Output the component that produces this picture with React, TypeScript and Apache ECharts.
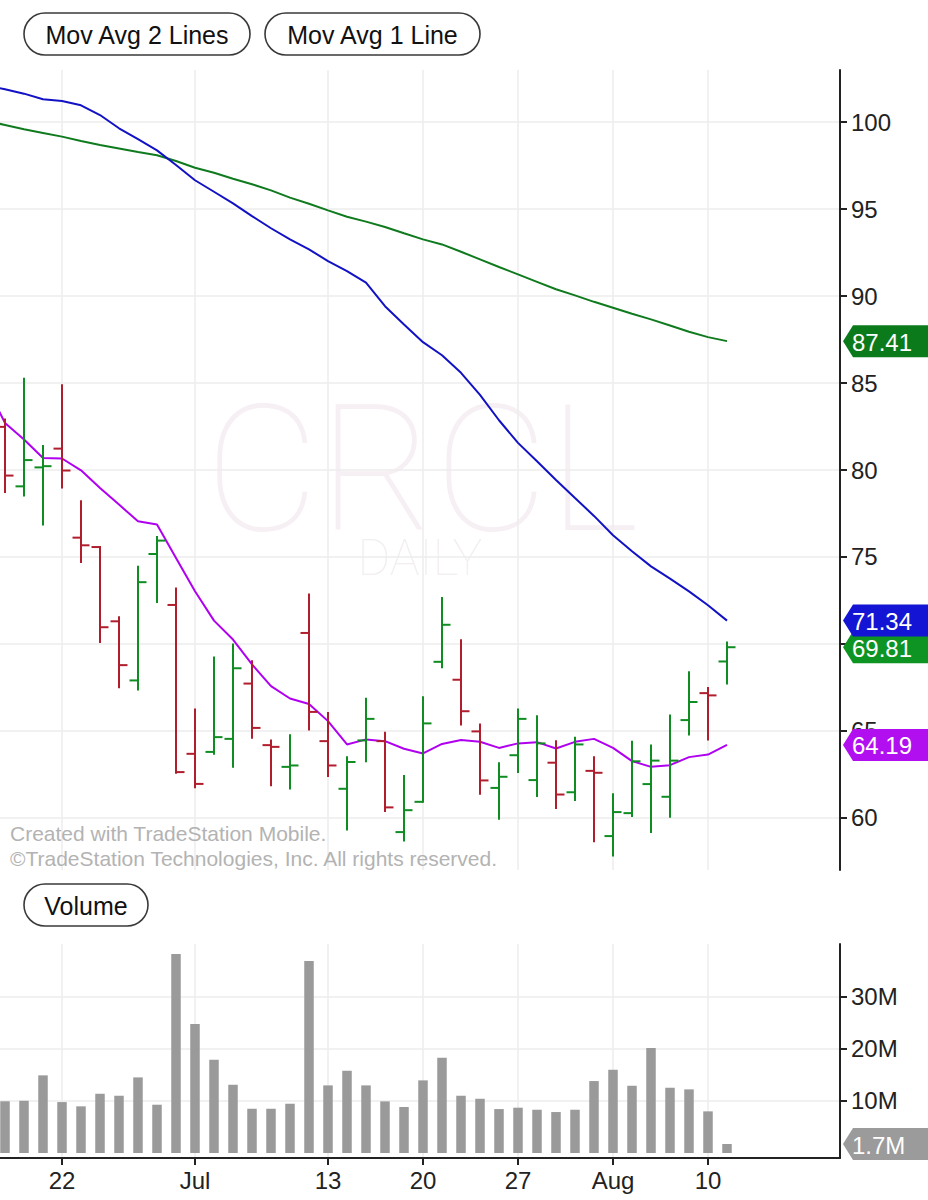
import React, { useEffect, useRef } from 'react';
import * as echarts from 'echarts';

// ---- data ----
const tickIndex = [3, 10, 17, 22, 27, 32, 37];
const tickLabels = ['22', 'Jul', '13', '20', '27', 'Aug', '10'];
const priceTicks = [60, 65, 70, 75, 80, 85, 90, 95, 100];
const volumeTicks = [10, 20, 30];

const opens = [82.48, 79.06, 80.15, 81.23, 76.11, 75.57, 71.3, 67.9, 75.17, 72.24, 63.68, 63.79, 64.54, 67.72, 64.18, 62.93, 70.63, 64.41, 61.67, 64.45, 64.41, 59.18, 60.92, 68.97, 67.94, 64.97, 61.72, 63.6, 62.17, 63.17, 61.47, 62.7, 58.95, 60.27, 61.94, 61.21, 65.62, 67.17, 68.99];
const highs = [82.9, 85.25, 81.38, 84.87, 78.2, 75.57, 71.53, 74.43, 76.15, 73.18, 66.23, 69.22, 69.97, 69.0, 64.45, 64.75, 72.84, 66.03, 63.49, 66.84, 64.89, 62.4, 66.94, 72.64, 70.21, 65.37, 63.14, 66.23, 65.84, 64.41, 64.6, 63.49, 61.36, 64.37, 64.16, 65.89, 68.37, 67.47, 70.08];
const lows = [78.74, 78.53, 76.86, 79.0, 74.71, 70.11, 67.51, 67.38, 72.41, 62.59, 61.76, 63.68, 62.93, 64.6, 61.88, 61.69, 65.08, 62.4, 59.33, 63.26, 60.39, 58.7, 60.92, 68.66, 65.37, 61.38, 59.94, 62.63, 61.25, 60.57, 61.02, 58.66, 57.84, 60.1, 59.18, 60.06, 64.79, 64.51, 67.72];
const closes = [79.68, 80.57, 80.22, 79.97, 75.67, 70.96, 68.78, 73.55, 75.94, 62.63, 61.95, 64.64, 68.6, 65.17, 64.08, 63.01, 66.09, 63.01, 63.21, 65.69, 60.6, 60.44, 65.43, 71.1, 66.13, 62.15, 62.36, 65.69, 64.28, 61.34, 64.22, 62.59, 60.33, 63.25, 63.29, 63.29, 66.66, 67.04, 69.81];
const volumes = [9.9, 10.0, 14.86, 9.75, 8.93, 11.34, 10.96, 14.47, 9.24, 38.1, 24.67, 17.84, 13.06, 8.47, 8.47, 9.43, 36.77, 12.94, 15.74, 12.94, 9.88, 8.8, 13.9, 18.23, 10.96, 10.38, 8.41, 8.67, 8.28, 7.84, 8.28, 13.77, 15.93, 12.87, 20.08, 12.49, 12.18, 7.97, 1.72];

// moving averages, first value belongs to the bar before the first visible bar
const maShort = [84.9, 82.7, 81.75, 80.69, 80.66, 79.98, 78.97, 78.01, 77.05, 76.86, 74.94, 73.03, 71.34, 70.25, 68.82, 67.57, 66.86, 66.55, 65.56, 64.22, 64.51, 64.41, 63.97, 63.7, 64.25, 64.47, 64.37, 64.02, 64.28, 64.35, 63.99, 64.37, 64.54, 64.02, 63.26, 62.93, 63.03, 63.49, 63.64, 64.19];
const maMid = [102.12, 101.89, 101.64, 101.32, 101.22, 100.97, 100.41, 99.65, 99.02, 98.38, 97.54, 96.66, 96.0, 95.33, 94.6, 93.9, 93.26, 92.69, 92.01, 91.44, 90.77, 89.42, 88.37, 87.35, 86.6, 85.59, 84.32, 82.86, 81.56, 80.5, 79.43, 78.39, 77.36, 76.25, 75.33, 74.46, 73.75, 73.02, 72.22, 71.34];
const maLong = [100.08, 99.84, 99.59, 99.38, 99.17, 98.92, 98.69, 98.49, 98.29, 98.1, 97.77, 97.38, 97.09, 96.75, 96.43, 96.08, 95.66, 95.31, 94.93, 94.56, 94.28, 93.97, 93.61, 93.26, 92.97, 92.55, 92.11, 91.67, 91.25, 90.82, 90.39, 90.04, 89.67, 89.33, 88.98, 88.66, 88.31, 87.95, 87.64, 87.41];

// ---- styles ----
const FONT = '"Liberation Sans", Arial, Helvetica, sans-serif';
const UP = '#0f8c22';
const DOWN = '#b01e2e';
const GRID = '#ececec';
const AXIS = '#222222';
const X_MIN = -5 / 19;
const X_MAX = 835 / 19;
const priceTagColors = ['#0b7a1b', '#0e9422', '#1414d4', '#b10ff0'];

export default function App() {
  const ref = useRef<HTMLDivElement>(null);

  useEffect(() => {
    document.body.style.margin = '0';
    const chart = echarts.init(ref.current as HTMLDivElement, null, { renderer: 'svg' });
    const last = opens.length - 1;
    const ohlc = opens.map((o, i) => [i, o, highs[i], lows[i], closes[i]]);
    const toLine = (arr: number[]) => arr.map((v, k) => [k - 1, v]);
    const volData = volumes.map((v, i) => [i, v]);
    const priceTags = [
      [last, maLong[maLong.length - 1]],
      [last, closes[last]],
      [last, maMid[maMid.length - 1]],
      [last, maShort[maShort.length - 1]],
    ];
    const volTag = [[last, volumes[last]]];

    const tagRender = (colors: string[], fmt: (v: number) => string) => (params: any, api: any) => {
      const v = api.value(1);
      const y = api.coord([api.value(0), v])[1];
      const cs = params.coordSys;
      const x0 = cs.x + cs.width + 3;
      const h = 16;
      return {
        type: 'group',
        children: [
          {
            type: 'polygon',
            shape: { points: [[x0, y], [x0 + 10, y - h], [928, y - h], [928, y + h], [x0 + 10, y + h]] },
            style: { fill: colors[params.dataIndex % colors.length] },
          },
          {
            type: 'text',
            style: {
              x: x0 + 9, y: y + 1, text: fmt(v), fill: '#ffffff',
              fontSize: 24, fontFamily: FONT, align: 'left', verticalAlign: 'middle',
            },
          },
        ],
      };
    };

    const xCommon = { type: 'value', min: X_MIN, max: X_MAX };

    const option: any = {
      animation: false,
      backgroundColor: '#ffffff',
      grid: [
        { left: 0, right: 88, top: 70, bottom: 330 },
        { left: 0, right: 88, top: 944, bottom: 42 },
      ],
      xAxis: [
        {
          ...xCommon, gridIndex: 0,
          axisLine: { show: false },
          axisTick: { show: false, customValues: tickIndex },
          axisLabel: { show: false, customValues: tickIndex },
          splitLine: { show: true, lineStyle: { color: GRID, width: 1.5 } },
        },
        {
          ...xCommon, gridIndex: 1,
          axisLine: { show: true, onZero: false, lineStyle: { color: AXIS, width: 2 } },
          axisTick: { show: true, customValues: tickIndex, length: 7, lineStyle: { color: AXIS, width: 2 } },
          axisLabel: {
            customValues: tickIndex, margin: 10, fontSize: 24, fontFamily: FONT, color: AXIS,
            formatter: (v: number) => tickLabels[tickIndex.indexOf(Math.round(v))] ?? '',
          },
          splitLine: { show: true, lineStyle: { color: GRID, width: 1.5 } },
        },
      ],
      yAxis: [
        {
          type: 'value', gridIndex: 0, position: 'right', min: 57, max: 103,
          axisLine: { show: true, onZero: false, lineStyle: { color: AXIS, width: 2 } },
          axisTick: { show: true, customValues: priceTicks, length: 7, lineStyle: { color: AXIS, width: 2 } },
          axisLabel: { customValues: priceTicks, margin: 11, fontSize: 24, fontFamily: FONT, color: AXIS },
          splitLine: { show: true, lineStyle: { color: GRID, width: 1.5 } },
        },
        {
          type: 'value', gridIndex: 1, position: 'right', min: -0.956, max: 40,
          axisLine: { show: true, onZero: false, lineStyle: { color: AXIS, width: 2 } },
          axisTick: { show: true, customValues: volumeTicks, length: 7, lineStyle: { color: AXIS, width: 2 } },
          axisLabel: {
            customValues: volumeTicks, margin: 11, fontSize: 24, fontFamily: FONT, color: AXIS,
            formatter: (v: number) => `${v}M`,
          },
          splitLine: { show: true, lineStyle: { color: GRID, width: 1.5 } },
        },
      ],
      graphic: [
        {
          type: 'text', x: 422, y: 470, z: -1, silent: true,
          style: { text: 'CRCL', fill: '#f6eff4', font: `100 176px Roboto, ${FONT}`, textAlign: 'center', textVerticalAlign: 'middle' },
        },
        {
          type: 'text', x: 420, y: 558, z: -1, silent: true,
          style: { text: 'DAILY', fill: '#f3eef1', font: `100 50px Roboto, ${FONT}`, textAlign: 'center', textVerticalAlign: 'middle' },
        },
        {
          type: 'text', x: 10, y: 833, z: 50,
          style: { text: 'Created with TradeStation Mobile.', fill: '#b3b3b3', font: `21px ${FONT}`, textAlign: 'left', textVerticalAlign: 'middle' },
        },
        {
          type: 'text', x: 10, y: 858, z: 50,
          style: { text: '©TradeStation Technologies, Inc. All rights reserved.', fill: '#b3b3b3', font: `21px ${FONT}`, textAlign: 'left', textVerticalAlign: 'middle' },
        },
        {
          type: 'group', z: 100,
          children: [
            { type: 'rect', shape: { x: 24, y: 13, width: 226, height: 42, r: 21 }, style: { fill: '#fff', stroke: '#3a3a3a', lineWidth: 1.6 } },
            { type: 'text', x: 137, y: 35, style: { text: 'Mov Avg 2 Lines', fill: '#111', font: `25px ${FONT}`, textAlign: 'center', textVerticalAlign: 'middle' } },
            { type: 'rect', shape: { x: 265, y: 13, width: 215, height: 42, r: 21 }, style: { fill: '#fff', stroke: '#3a3a3a', lineWidth: 1.6 } },
            { type: 'text', x: 372.5, y: 35, style: { text: 'Mov Avg 1 Line', fill: '#111', font: `25px ${FONT}`, textAlign: 'center', textVerticalAlign: 'middle' } },
            { type: 'rect', shape: { x: 24, y: 884, width: 124, height: 42, r: 21 }, style: { fill: '#fff', stroke: '#3a3a3a', lineWidth: 1.6 } },
            { type: 'text', x: 86, y: 906, style: { text: 'Volume', fill: '#111', font: `25px ${FONT}`, textAlign: 'center', textVerticalAlign: 'middle' } },
          ],
        },
      ],
      series: [
        {
          type: 'line', xAxisIndex: 0, yAxisIndex: 0, data: toLine(maLong), showSymbol: false,
          lineStyle: { color: '#0f7a1e', width: 2 }, z: 2,
        },
        {
          type: 'line', xAxisIndex: 0, yAxisIndex: 0, data: toLine(maMid), showSymbol: false,
          lineStyle: { color: '#1212c4', width: 2 }, z: 2,
        },
        {
          type: 'line', xAxisIndex: 0, yAxisIndex: 0, data: toLine(maShort), showSymbol: false,
          lineStyle: { color: '#b000f0', width: 2 }, z: 2,
        },
        {
          type: 'custom', xAxisIndex: 0, yAxisIndex: 0, data: ohlc, z: 3, clip: false,
          encode: { x: 0, y: [1, 2, 3, 4] },
          renderItem: (params: any, api: any) => {
            const i = api.value(0);
            const o = api.value(1);
            const c = api.value(4);
            const ph = api.coord([i, api.value(2)]);
            const pl = api.coord([i, api.value(3)]);
            const po = api.coord([i, o]);
            const pc = api.coord([i, c]);
            const color = c >= o ? UP : DOWN;
            const st = { stroke: color, lineWidth: 2 };
            return {
              type: 'group',
              children: [
                { type: 'line', shape: { x1: ph[0], y1: ph[1] - 1, x2: pl[0], y2: pl[1] + 1 }, style: st },
                { type: 'line', shape: { x1: po[0] - 8.5, y1: po[1], x2: po[0], y2: po[1] }, style: st },
                { type: 'line', shape: { x1: pc[0], y1: pc[1], x2: pc[0] + 8.5, y2: pc[1] }, style: st },
              ],
            };
          },
        },
        {
          type: 'custom', xAxisIndex: 0, yAxisIndex: 0, data: priceTags, z: 10, clip: false,
          encode: { x: 0, y: 1 },
          renderItem: tagRender(priceTagColors, (v) => v.toFixed(2)),
        },
        {
          type: 'bar', xAxisIndex: 1, yAxisIndex: 1, data: volData, barWidth: 9.5,
          itemStyle: { color: '#9b9a9b' },
        },
        {
          type: 'custom', xAxisIndex: 1, yAxisIndex: 1, data: volTag, z: 10, clip: false,
          encode: { x: 0, y: 1 },
          renderItem: tagRender(['#9b9b9b'], (v) => `${v.toFixed(1)}M`),
        },
      ],
    };

    chart.setOption(option);
    return () => chart.dispose();
  }, []);

  return <div ref={ref} style={{ width: 928, height: 1200 }} />;
}
